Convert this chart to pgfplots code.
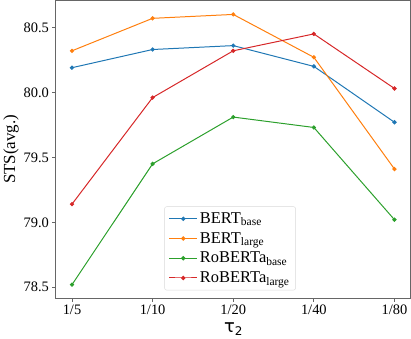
\documentclass[border=0pt]{standalone}
\usepackage{pgfplots}
\pgfplotsset{compat=1.18}
\usepackage{fontspec}
\setmainfont{Liberation Serif}
\newfontfamily\dejavu{DejaVu Sans}
\definecolor{tabblue}{HTML}{1F77B4}
\definecolor{taborange}{HTML}{FF7F0E}
\definecolor{tabgreen}{HTML}{2CA02C}
\definecolor{tabred}{HTML}{D62728}
\begin{document}
\begin{tikzpicture}
\begin{axis}[
  scale only axis,
  width=356pt, height=299pt,
  xmin=-0.2, xmax=4.2,
  ymin=78.415, ymax=80.708,
  xtick={0,1,2,3,4},
  xticklabels={1/5,1/10,1/20,1/40,1/80},
  ytick={78.5,79.0,79.5,80.0,80.5},
  yticklabel style={/pgf/number format/.cd,fixed,fixed zerofill,precision=1},
  /pgf/number format/assume math mode=true,
  tick label style={font=\fontsize{14.5}{14.5}\selectfont},
  tick align=outside,
  tick pos=left,
  major tick length=3.5pt,
  axis line style={draw=gray!80!black, line width=0.8pt},
  every tick/.style={gray!80!black, line width=0.8pt},
  ylabel={STS(avg.)},
  ylabel style={font=\fontsize{17}{17}\selectfont, yshift=-2pt},
  xlabel={\dejavu τ\raisebox{-0.25ex}{\fontsize{12}{12}\selectfont 2}},
  xlabel style={font=\fontsize{18}{18}\selectfont, yshift=-1pt},
  every axis plot/.append style={line width=1pt, mark=*, mark size=1.6pt},
  legend style={at={(0.306,0.027)}, anchor=south west, draw=gray!30, rounded corners=2pt,
    font=\fontsize{16.5}{18}\selectfont, row sep=3.5pt, inner sep=4pt},
  legend cell align=left,
  legend image code/.code={
    \draw[#1, mark repeat=2, mark phase=2] plot coordinates {(0cm,0cm) (0.5cm,0cm) (1.0cm,0cm)};
  },
]
\addplot[tabblue] coordinates {(0,80.19) (1,80.33) (2,80.36) (3,80.20) (4,79.77)};
\addlegendentry{BERT\textsubscript{base}}
\addplot[taborange] coordinates {(0,80.32) (1,80.57) (2,80.60) (3,80.27) (4,79.41)};
\addlegendentry{BERT\textsubscript{large}}
\addplot[tabgreen] coordinates {(0,78.52) (1,79.45) (2,79.81) (3,79.73) (4,79.02)};
\addlegendentry{RoBERTa\textsubscript{base}}
\addplot[tabred] coordinates {(0,79.14) (1,79.96) (2,80.32) (3,80.45) (4,80.03)};
\addlegendentry{RoBERTa\textsubscript{large}}
\end{axis}
\end{tikzpicture}
\end{document}
